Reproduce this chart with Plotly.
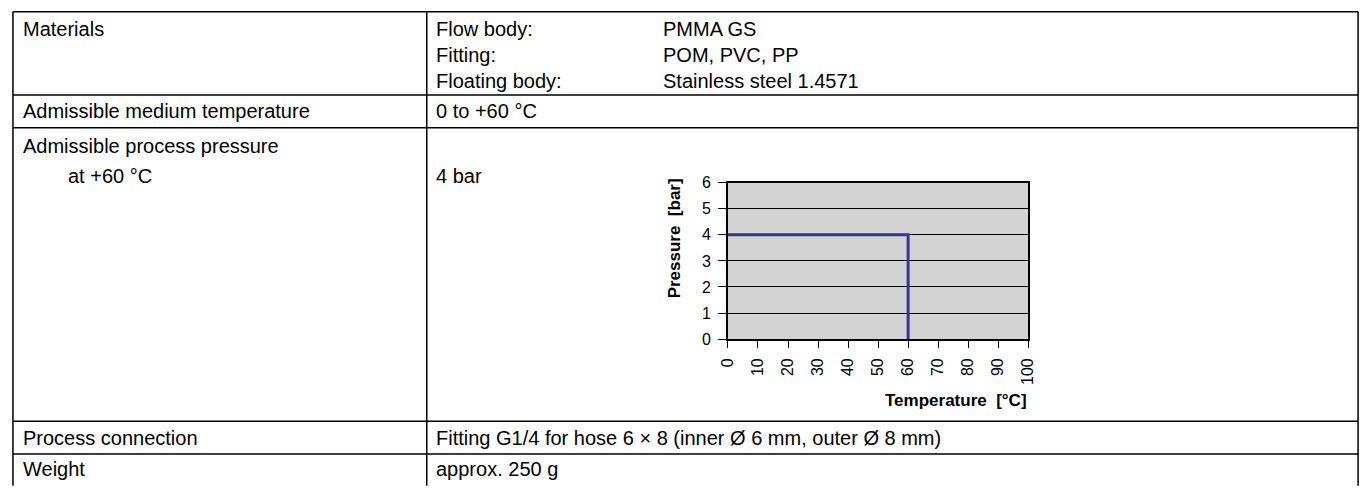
import plotly.graph_objects as go

# ---- data ----
temperature_c = [0, 60, 60]
pressure_bar = [4, 4, 0]
x_ticks = [0, 10, 20, 30, 40, 50, 60, 70, 80, 90, 100]
y_ticks = [0, 1, 2, 3, 4, 5, 6]

left_labels = ["Materials", "Admissible medium temperature", "Admissible process pressure",
               "at +60 °C", "Process connection", "Weight"]
material_keys = ["Flow body:", "Fitting:", "Floating body:"]
material_vals = ["PMMA GS", "POM, PVC, PP", "Stainless steel 1.4571"]
right_texts = ["0 to +60 °C", "4 bar",
               "Fitting G1/4 for hose 6 × 8 (inner Ø 6 mm, outer Ø 8 mm)", "approx. 250 g"]

W, H = 1372, 491
FONT = "Liberation Sans, Arial, sans-serif"
TS = 20  # table font size


def px(x):
    return x / W


def py(y):
    return 1 - y / H


fig = go.Figure()
fig.add_trace(go.Scatter(x=temperature_c, y=pressure_bar, mode="lines",
                         line=dict(color="#363694", width=3), showlegend=False,
                         hoverinfo="skip"))

# table geometry (pixels)
xl, xm, xr = 4, 423, 1366
ytop = 4
rows = [90, 124, 428, 462]
ybot = 495

shapes = []
def line(x0, y0, x1, y1):
    shapes.append(dict(type="line", xref="paper", yref="paper",
                       x0=px(x0), y0=py(y0), x1=px(x1), y1=py(y1),
                       line=dict(color="black", width=1.5)))

line(xl, ytop, xr, ytop)
for r in rows:
    line(xl, r, xr, r)
line(xl, ytop, xl, ybot)
line(xm, ytop, xm, ybot)
line(xr, ytop, xr, ybot)

ann = []
def text(x, y, s, size=TS, bold=False, xanchor="left", angle=0):
    ann.append(dict(x=px(x), y=py(y), xref="paper", yref="paper",
                    text=f"<b>{s}</b>" if bold else s, showarrow=False,
                    xanchor=xanchor, yanchor="middle", textangle=angle,
                    font=dict(family=FONT, size=size, color="black")))

left_y = [22, 107, 143, 174, 445, 478]
left_x = [12, 12, 12, 58, 12, 12]
for s, x, y in zip(left_labels, left_x, left_y):
    text(x, y, s)

mat_y = [22, 49, 76]
for k, v, y in zip(material_keys, material_vals, mat_y):
    text(430, y, k)
    text(660, y, v)

right_y = [107, 174, 445, 478]
for s, y in zip(right_texts, right_y):
    text(430, y, s)

# chart axis titles
text(1033, 407, "Temperature  [°C]", size=17, bold=True, xanchor="right")
text(674, 239, "Pressure  [bar]", size=17, bold=True, xanchor="center", angle=-90)

fig.update_layout(
    width=W, height=H,
    margin=dict(l=0, r=0, t=0, b=0),
    paper_bgcolor="white",
    plot_bgcolor="#d3d3d3",
    shapes=shapes,
    annotations=ann,
    font=dict(family=FONT, color="black"),
    xaxis=dict(domain=[px(728), px(1032)], range=[0, 100], tickvals=x_ticks,
               tickangle=-90, ticks="outside", ticklen=7, tickcolor="black",
               ticklabelstandoff=4,
               showline=True, linecolor="black", linewidth=1.5, mirror=True,
               showgrid=False, zeroline=False, fixedrange=True,
               tickfont=dict(family=FONT, size=16, color="black")),
    yaxis=dict(domain=[py(343), py(181)], range=[0, 6], tickvals=y_ticks,
               ticks="outside", ticklen=8, tickcolor="black",
               ticklabelstandoff=4,
               showline=True, linecolor="black", linewidth=1.5, mirror=True,
               showgrid=True, gridcolor="black", gridwidth=1.3, zeroline=False,
               fixedrange=True,
               tickfont=dict(family=FONT, size=16, color="black")),
)

fig.write_html("out.html", config={"displayModeBar": False},
               post_script="document.body.style.margin='0';document.body.style.overflow='hidden';")
